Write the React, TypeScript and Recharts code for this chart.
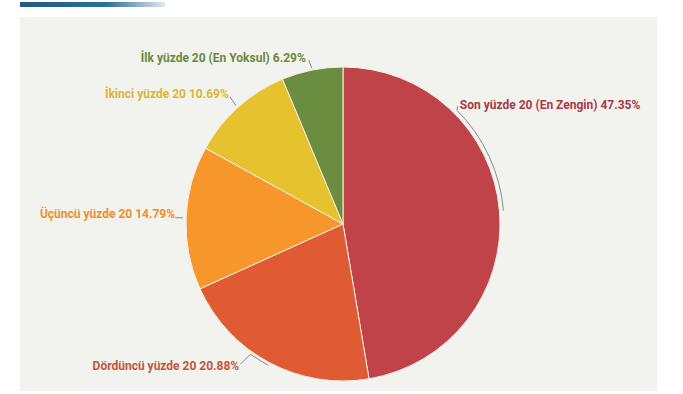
import { PieChart, Pie, Cell } from "recharts";

const groups = [
  "Son yüzde 20 (En Zengin)",
  "Dördüncü yüzde 20",
  "Üçüncü yüzde 20",
  "İkinci yüzde 20",
  "İlk yüzde 20 (En Yoksul)",
];
const shares = [47.35, 20.88, 14.79, 10.69, 6.29];
const sliceColors = ["#c0434a", "#e05b34", "#f7962b", "#e7c22f", "#6b8d3f"];
const labelColors = ["#a83a44", "#c4563a", "#ee8e2c", "#dcb536", "#6a8a3a"];

const data = groups.map((name, i) => ({ name, value: shares[i] }));

const RAD = Math.PI / 180;

function polar(cx: number, cy: number, r: number, deg: number) {
  return { x: cx + r * Math.cos(-deg * RAD), y: cy + r * Math.sin(-deg * RAD) };
}

function renderLabel(props: any) {
  const { cx, cy, midAngle, outerRadius, index } = props;
  const text = `${groups[index]} ${shares[index].toFixed(2)}%`;
  const color = labelColors[index];
  const p = polar(cx, cy, outerRadius + 2, midAngle);
  const font = {
    fontFamily: "Roboto, sans-serif",
    fontSize: 12,
    fontWeight: 700,
    fill: color,
  };

  if (index === 0) {
    // brace following the arc up to the label
    const r = outerRadius + 4;
    const a = polar(cx, cy, r, midAngle);
    const b = polar(cx, cy, r, 45);
    const d = `M${a.x},${a.y} A${r},${r} 0 0 0 ${b.x},${b.y} L${b.x + 1},${b.y - 4}`;
    return (
      <g key={index}>
        <path d={d} fill="none" stroke="#8a8a8a" strokeWidth={1} />
        <text x={b.x + 3} y={b.y - 1} textAnchor="start" {...font}>
          {text}
        </text>
      </g>
    );
  }
  if (index === 1) {
    const d = `M${p.x},${p.y + 1} L${p.x - 18},${p.y - 10} L${p.x - 28},${p.y}`;
    return (
      <g key={index}>
        <path d={d} fill="none" stroke="#8a8a8a" strokeWidth={1} />
        <text x={p.x - 29} y={p.y + 6} textAnchor="end" {...font}>
          {text}
        </text>
      </g>
    );
  }
  if (index === 2) {
    const d = `M${p.x - 9},${p.y} L${p.x - 1},${p.y}`;
    return (
      <g key={index}>
        <path d={d} fill="none" stroke="#8a8a8a" strokeWidth={1} />
        <text x={p.x - 9} y={p.y} textAnchor="end" {...font}>
          {text}
        </text>
      </g>
    );
  }
  if (index === 3) {
    const d = `M${p.x - 1},${p.y} L${p.x - 7},${p.y - 9}`;
    return (
      <g key={index}>
        <path d={d} fill="none" stroke="#8a8a8a" strokeWidth={1} />
        <text x={p.x - 8} y={p.y - 8} textAnchor="end" {...font}>
          {text}
        </text>
      </g>
    );
  }
  const d = `M${p.x},${p.y} L${p.x - 3},${p.y - 8}`;
  return (
    <g key={index}>
      <path d={d} fill="none" stroke="#8a8a8a" strokeWidth={1} />
      <text x={p.x - 6} y={p.y - 6} textAnchor="end" {...font}>
        {text}
      </text>
    </g>
  );
}

export default function App() {
  return (
    <div style={{ position: "relative", width: 683, height: 394, background: "#ffffff" }}>
      <style>{`body{margin:0}`}</style>
      <div
        style={{
          position: "absolute",
          left: 20,
          top: 2,
          width: 145,
          height: 5,
          background: "linear-gradient(90deg, #1f5a84 0%, #2e6f98 60%, #dfe9ef 100%)",
        }}
      />
      <div
        style={{
          position: "absolute",
          left: 20,
          top: 17,
          width: 637,
          height: 374,
          background: "#f2f2ee",
        }}
      />
      <div style={{ position: "absolute", left: 0, top: 0 }}>
        <PieChart width={683} height={394} margin={{ top: 0, right: 0, bottom: 0, left: 0 }}>
          <Pie
            data={data}
            dataKey="value"
            nameKey="name"
            cx={343}
            cy={224}
            outerRadius={157}
            startAngle={90}
            endAngle={-270}
            stroke="#f6efe4"
            strokeWidth={1}
            label={renderLabel}
            labelLine={false}
            isAnimationActive={false}
          >
            {data.map((d, i) => (
              <Cell key={d.name} fill={sliceColors[i]} />
            ))}
          </Pie>
        </PieChart>
      </div>
    </div>
  );
}
